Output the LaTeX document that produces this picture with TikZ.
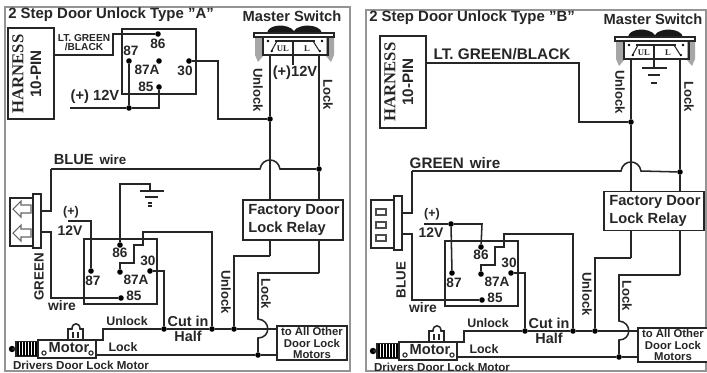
\documentclass[tikz,border=0pt]{standalone}
\usepackage{fontspec}
\setmainfont{Liberation Sans}
\newfontfamily\serifb{Liberation Serif}
\tikzset{
 wire/.style={line width=1.15pt,black!85},
 thin wire/.style={line width=0.8pt,black!85},
 box/.style={draw=black!85,line width=1.15pt,fill=white,inner sep=0pt},
 frame/.style={draw=black!42,line width=1.5pt},
 junction/.style={circle,fill=black,inner sep=0pt,minimum size=4.2pt},
 lbl/.style={inner sep=0pt,text=black!85,font=\bfseries\fontsize{10}{11}\selectfont},
 lblb/.style={lbl,font=\bfseries\fontsize{11}{12}\selectfont},
 lbls/.style={lbl,font=\bfseries\fontsize{7.6}{9}\selectfont},
 pin/.style={lbl,font=\fontsize{10.2}{11}\bfseries\selectfont},
 title/.style={lbl,anchor=west,font=\bfseries\fontsize{11.2}{12}\selectfont},
 lwire/.style={lbl,font=\bfseries\fontsize{9.3}{10}\selectfont},
 vlab/.style={lbl,rotate=-90,font=\bfseries\fontsize{9.8}{10}\selectfont},
 vname/.style={lbl,rotate=90,font=\bfseries\fontsize{10}{11}\selectfont},
 harn/.style={lbl,rotate=90,font=\bfseries\fontsize{12.5}{13}\serifb\selectfont},
 pinn/.style={lbl,rotate=90,font=\bfseries\fontsize{11.4}{12}\selectfont},
 fact/.style={lbl,align=left,font=\bfseries\fontsize{11}{14}\selectfont},
 swl/.style={lbl,font=\bfseries\fontsize{6.5}{7}\serifb\selectfont},
}
% master switch, drawn in the left panel's coordinates
\newcommand{\mswitch}[3]{%
\begin{scope}[shift={(#2,#3)}]
 \fill[black!90] (267,33) .. controls (268,24) and (288,23) .. (294,31) .. controls (299,23) and (320,24) .. (322,33) -- cycle;
 \fill[black!35] (255,37) -- (263,37) -- (263,56) -- (258,62) -- (255,55) -- cycle;
 \fill[black!35] (334,37) -- (326,37) -- (326,56) -- (331,62) -- (334,55) -- cycle;
 \node[box,minimum width=80*0.75pt,minimum height=4*0.75pt] (#1bar) at (294,35) {};
 \draw[wire] (263,37) -- (263,55) -- (328,55) -- (328,37);
 \node[swl] (#1ul) at (283,49) {UL};
 \node[swl] (#1ls) at (307,49) {L};
 \draw[thin wire] (275,41) -- (315,41);
 \draw[thin wire] (277,41) -- (271,52);
 \draw[thin wire] (313,41) -- (320,52);
 \fill (268,41) circle (1pt) (322,41) circle (1pt) (272,51) circle (.8pt) (320,51) circle (.8pt);
\end{scope}}
% everything from the door connector's relay downwards
\newcommand{\lowerpart}[3]{%
\begin{scope}[shift={(#2,#3)}]
 \node[box,fill=none,minimum width=73*0.75pt,minimum height=65*0.75pt] (#1rly) at (120.5,271.5) {};
 \node[junction] (#1p86) at (120,245) {};
 \node[junction] (#1p87) at (91,271) {};
 \node[junction] (#1p87a) at (120,272) {};
 \node[junction] (#1p30) at (150,271) {};
 \node[junction] (#1p85) at (121,298) {};
 \node[pin] (#1t86) at (120,253) {86};
 \node[pin] (#1t87) at (93,281) {87};
 \node[pin] (#1t87a) at (136,280) {87A};
 \node[pin] (#1t30) at (148,261) {30};
 \node[pin] (#1t85) at (134,296) {85};
 \node[junction] (#1j1) at (164,329) {};
 \node[junction] (#1j2) at (212,329) {};
 \node[junction] (#1j3) at (234,329) {};
 \node[junction] (#1j4) at (258,355) {};
 \node[box,minimum width=70*0.75pt,minimum height=34*0.75pt] (#1all) at (312,343) {};
 \node[lbls,align=center,font=\bfseries\fontsize{8.5}{8.6}\selectfont] (#1allt) at (312,343) {to All Other\\Door Lock\\Motors};
 \node[box,minimum width=58*0.75pt,minimum height=18*0.75pt] (#1mot) at (67,349) {};
 \node[lbl,font=\bfseries\fontsize{11}{12}\selectfont] (#1mott) at (69,348) {Motor};
 \draw[thin wire] (44,353) circle (1.6pt) (91,353) circle (1.6pt);
 \draw[wire] (68,340) -- (68,329) -- (72,329) .. controls (72,322) and (80,322) .. (80,329) -- (83,329) -- (83,340);
 \draw[thin wire] (73,332) -- (73,338) (78,332) -- (78,338);
 \draw[wire] (16,341.5) rectangle (38,356);
 \foreach \xx in {18,21,24,27,30,33,36} \fill[black] (\xx-1,341.5) rectangle (\xx+1,356);
 \fill (12,349) circle (2.4pt);
 \draw[wire] (12,349) -- (16,349);
 \draw[wire] (#1mot.north east) ++(0,1) -- ++(6,0) |- (#1j1) -- (#1j2) -- (#1j3) -- (#1all.west |- #1j3);
 \draw[wire] (#1mot.east |- #1j4) -- (#1j4) -- (#1all.west |- #1j4);
 \draw[wire] (#1p30) -- (164,271) -- (#1j1);
 \draw[wire] (#1j2) -- (212,232) -- (143,232) -- (143,245) -- (134,245) -- (134,263) -- (120,263) -- (#1p87a);
 \draw[wire] (#1j3) -- (234,256) coordinate (#1c1) -- (270,256) coordinate (#1up);
 \draw[wire] (#1j4) -- (258,338) .. controls (271,338) and (271,320) .. (258,319) -- (258,273) -- (319,273) coordinate (#1lk);
 \node[lwire] (#1tun) at (127,321) {Unlock};
 \node[lwire] (#1tlk) at (123,347) {Lock};
 \node[lbl,align=center,font=\bfseries\fontsize{10.8}{10.8}\selectfont] (#1cut) at (188,329) {Cut in\\Half};
 \node[vlab] (#1tun2) at (226,292) {Unlock};
 \node[vlab] (#1tlk2) at (266,294) {Lock};
 \node[lbl,font=\bfseries\fontsize{8.7}{9}\selectfont] (#1drv) at (81,365) {Drivers Door Lock Motor};
 \node[lbl,font=\bfseries\fontsize{9.4}{10}\selectfont] (#1pl) at (71,212) {(+)};
 \node[lbl,font=\bfseries\fontsize{10.4}{11}\selectfont] (#1v) at (70,231) {12V};
 \node[lbl,font=\bfseries\fontsize{10.4}{11}\selectfont] (#1wire) at (62,306) {wire};
 \draw[wire] (41,232) -- (51,232) -- (51,298) -- (#1p85);
 \draw[wire] (41,211) -- (51,211) -- (51,169) coordinate (#1b);
 \node[box,minimum width=24*0.75pt,minimum height=48*0.75pt] (#1con) at (22,222) {};
 \node[box,minimum width=8*0.75pt,minimum height=54*0.75pt] (#1str) at (37,221) {};
\end{scope}}
\begin{document}
\begin{tikzpicture}[x=0.75pt,y=-0.75pt]
\useasboundingbox (0,0) rectangle (707,372);
\fill[white] (0,0) rectangle (707,372);
% ---------- panel A
\draw[frame] (4.5,6.5) rectangle (349.5,371);
\node[title] (at) at (8,15) {2 Step Door Unlock Type "A"};
\node[lblb] (ams) at (292,16) {Master Switch};
\node[box,minimum width=46*0.75pt,minimum height=91*0.75pt] (ah) at (31,73.5) {};
\node[harn] (ah1) at (18,74) {HARNESS};
\node[pinn] (ah2) at (36,74) {10-PIN};
\node[box,fill=none,minimum width=74*0.75pt,minimum height=65*0.75pt] (ar) at (159,61.5) {};
\node[lbls] (alg) at (84,38) {LT. GREEN};
\node[lbls] (abk) at (84,47) {/BLACK};
\node[junction] (a86) at (158,34) {};
\node[junction] (a87) at (129,61) {};
\node[junction] (a87a) at (159,61) {};
\node[junction] (a85) at (159,87) {};
\node[junction] (a30) at (189,61) {};
\node[junction] (aj12) at (129,108) {};
\node[junction] (aju) at (270,119) {};
\node[junction] (ajl) at (319,169) {};
\node[pin] (at86) at (158,44) {86};
\node[pin] (at87) at (131,51) {87};
\node[pin] (at87a) at (147,70) {87A};
\node[pin] (at85) at (146,87) {85};
\node[pin] (at30) at (185,71) {30};
\node[lbl,font=\bfseries\fontsize{11}{12}\selectfont] (av) at (95,97) {(+) 12V};
\coordinate (av0) at (70,108);
\draw[wire] (ah.east |- 0,55) -- (113,55) -- (113,34) -- (a86);
\draw[wire] (av0) -- (aj12) -- (159,108) -- (a85);
\draw[wire] (a87) -- (aj12);
\draw[wire] (a30) -- (218,61) -- (218,119) -- (aju);
\mswitch{as}{0}{0}
\draw[thin wire] (293,41) -- (293,65);
\node[lbl,font=\bfseries\fontsize{11}{12}\selectfont] (avv) at (295,73) {(+)12V};
\node[vlab] (aun) at (258,90) {Unlock};
\node[vlab] (alk) at (328,95) {Lock};
\lowerpart{a}{0}{0}
\node[box,minimum width=100*0.75pt,minimum height=40*0.75pt] (af) at (293,220) {};
\node[fact] (aft) at (294,220) {Factory Door\\Lock Relay};
\draw[wire] (270,55) -- (aju) -- (af.north -| aju);
\draw[wire] (319,55) -- (ajl) -- (af.north -| ajl);
\draw[wire] (ab) -- (260,169) .. controls (262,157) and (278,157) .. (280,169) -- (ajl);
\draw[wire] (af.south -| aju) -- (aup);
\draw[wire] (af.south -| ajl) -- (alk);
\node[lbl,font=\bfseries\fontsize{11}{12}\selectfont] (ablu) at (90,160) {BLUE\hspace{.4em}\fontsize{10}{11}\selectfont wire};
\node[vname] (agr) at (39,277) {GREEN};
\draw[wire] (68,221) -- (91,221) -- (ap87);
\draw[wire] (ap86) -- (120,184) -- (150,184) -- (150,191) coordinate (ag);
\draw[wire] (140,191) -- (164,191) (145,197) -- (158,197) (147.5,206) -- (152,206);
\draw[thin wire] (148,203) -- (152,203);
% arrow shapes in panel A's connector
\draw[thin wire,black!60,fill=white] (31,205) -- (21,205) -- (21,201) -- (13,209) -- (21,217) -- (21,213) -- (31,213) -- cycle;
\draw[thin wire,black!60,fill=white] (31,229) -- (21,229) -- (21,225) -- (13,233) -- (21,241) -- (21,237) -- (31,237) -- cycle;
% ---------- panel B
\draw[frame] (365.5,10) rectangle (706,371);
\node[title] (bt) at (369,18) {2 Step Door Unlock Type "B"};
\node[lblb] (bms) at (653,19) {Master Switch};
\node[box,minimum width=46*0.75pt,minimum height=92*0.75pt] (bh) at (403,82) {};
\node[harn] (bh1) at (390,82) {HARNESS};
\node[pinn] (bh2) at (408,82) {10-PIN};
\node[lbl,font=\bfseries\fontsize{11.5}{12}\selectfont] (blg) at (502,54) {LT. GREEN/BLACK};
\mswitch{bs}{361}{4}
\node[junction] (bju) at (631,122) {};
\node[junction] (bjl) at (680,172) {};
\draw[wire] (bh.east |- 0,63) -- (579,63) -- (579,122) -- (bju);
\draw[wire] (654,45) -- (654,68);
\draw[wire] (642,68) -- (667,68) (648,75) -- (660,75);
\draw[wire] (651,83) -- (657,83);
\node[vlab] (bun) at (620,92) {Unlock};
\node[vlab] (blk) at (689,97) {Lock};
\lowerpart{b}{361}{2}
\node[box,minimum width=100*0.75pt,minimum height=39*0.75pt] (bf) at (654,211) {};
\node[fact] (bft) at (655,211) {Factory Door\\Lock Relay};
\draw[wire] (631,59) -- (bju) -- (bf.north -| bju);
\draw[wire] (680,59) -- (bjl) -- (bf.north -| bjl);
\draw[wire] (bb) -- (621,171) .. controls (623,159) and (639,159) .. (641,171) -- (bjl);
\draw[wire] (bf.south -| bju) -- (bup);
\draw[wire] (bf.south -| bjl) -- (blk);
\node[lbl,font=\bfseries\fontsize{11.4}{12}\selectfont] (bgr) at (455,163) {GREEN\hspace{.4em}wire};
\node[vname] (bblu) at (401,280) {BLUE};
\node[junction] (bj12) at (451,224) {};
\coordinate (bv0) at (424,224);
\draw[wire] (bv0) -- (bj12) -- (482,224) -- (bp86);
\draw[wire] (bj12) -- (bp87);
% rectangles in panel B's connector
\draw[thin wire,black!70,fill=white] (376,209) rectangle (386,215) (376,222) rectangle (386,228) (376,235) rectangle (386,241);
\end{tikzpicture}
\end{document}
